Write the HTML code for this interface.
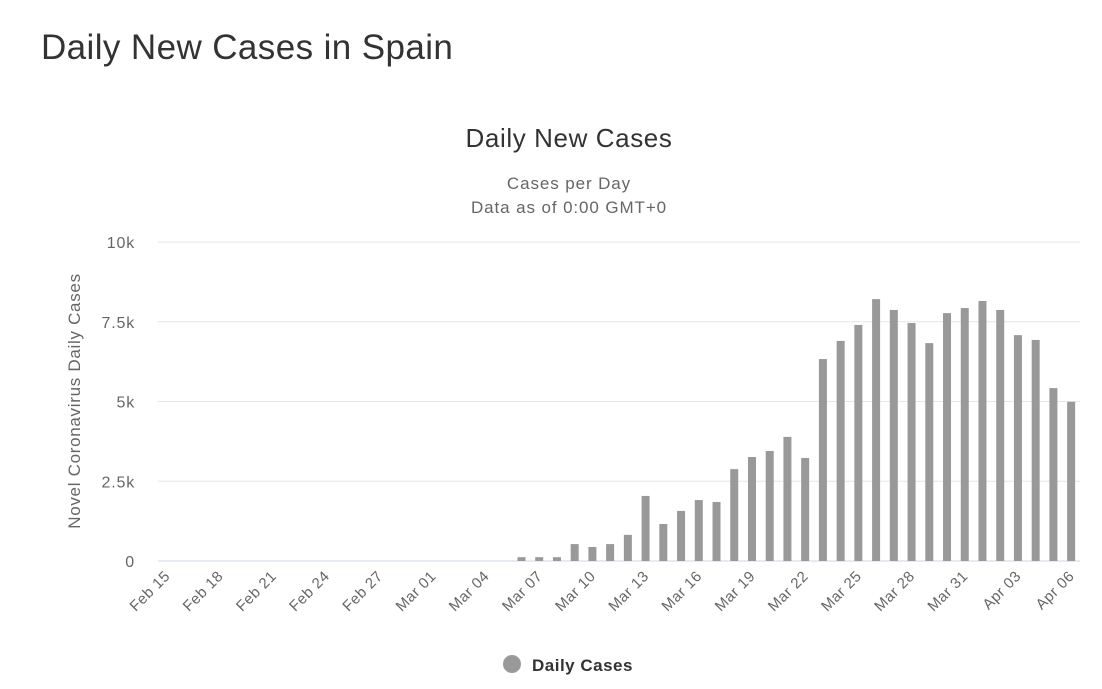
<!DOCTYPE html>
<html><head><meta charset="utf-8"><style>
body{margin:0;background:#fff;width:1102px;height:689px;overflow:hidden;font-family:"Liberation Sans",sans-serif;}
h1{position:absolute;left:41px;top:28px;margin:0;font-weight:normal;font-size:35px;letter-spacing:0.4px;color:#333;}
</style></head><body>
<h1>Daily New Cases in Spain</h1>
<svg id="chart" width="1102" height="689" style="position:absolute;left:0;top:0;font-family:'Liberation Sans',sans-serif">
<text x="569" y="147" text-anchor="middle" font-size="26" letter-spacing="0.6" fill="#333">Daily New Cases</text>
<text x="569" y="189" text-anchor="middle" font-size="17" letter-spacing="0.9" fill="#666">Cases per Day</text>
<text x="569" y="213" text-anchor="middle" font-size="17" letter-spacing="0.9" fill="#666">Data as of 0:00 GMT+0</text>
<text transform="translate(80,401) rotate(-90)" text-anchor="middle" font-size="17" letter-spacing="0.7" fill="#666">Novel Coronavirus Daily Cases</text>
<g id="grid"></g><g id="bars"></g><g id="xlabels"></g>
<g>
<circle cx="512" cy="664" r="9" fill="#999"/>
<text x="532" y="671" font-size="17" letter-spacing="0.5" font-weight="bold" fill="#333">Daily Cases</text>
</g>
</svg>
<script>
const categories = (function(){const a=[];const m=[["Feb",15,29],["Mar",1,31],["Apr",1,6]];for(const [n,s,e] of m)for(let d=s;d<=e;d++)a.push(n+" "+String(d).padStart(2,"0"));return a;})();
const values = [0,0,0,0,0,0,0,0,0,0,0,0,0,0,0,
0,0,0,0,0,120,120,120,530,440,530,820,2040,1160,1570,1910,1850,2880,3260,3450,3890,3230,6330,6900,7400,8210,7870,7460,6830,7770,7930,8150,
7870,7080,6930,5420,4990];
const yTicks = [0,2500,5000,7500,10000];
const yTickLabels = ["0","2.5k","5k","7.5k","10k"];
const NS="http://www.w3.org/2000/svg";
const x0=158,x1=1080,yb=561,yt=242,ymax=10000;
const step=(x1-x0)/categories.length;
const y=v=>yb-(v/ymax)*(yb-yt);
const xc=i=>x0+step*(i+0.5);
const grid=document.getElementById('grid');
yTicks.forEach((t,i)=>{
 const l=document.createElementNS(NS,'line');
 l.setAttribute('x1',x0);l.setAttribute('x2',x1);l.setAttribute('y1',y(t));l.setAttribute('y2',y(t));
 l.setAttribute('stroke',i===0?'#ccd6eb':'#e6e6e6');
 
 
 grid.appendChild(l);
 const tx=document.createElementNS(NS,'text');
 tx.setAttribute('x',135);tx.setAttribute('y',y(t)+6);tx.setAttribute('text-anchor','end');
 tx.setAttribute('font-size','16');tx.setAttribute('letter-spacing','0.8');tx.setAttribute('fill','#666');tx.textContent=yTickLabels[i];
 
 
 grid.appendChild(tx);
});
const bars=document.getElementById('bars');
values.forEach((v,i)=>{
 const r=document.createElementNS(NS,'rect');
 const bw=8;
 r.setAttribute('x',xc(i)-bw/2);r.setAttribute('width',bw);
 r.setAttribute('y',y(v));r.setAttribute('height',Math.max(0,yb-y(v)));
 r.setAttribute('fill','#999');
 
 
 bars.appendChild(r);
});
const xl=document.getElementById('xlabels');
categories.forEach((c,i)=>{
 if(i%3!==0)return;
 const t=document.createElementNS(NS,'text');
 const px=xc(i)+4,py=577;
 t.setAttribute('transform','translate('+px+','+py+') rotate(-45)');
 t.setAttribute('text-anchor','end');t.setAttribute('font-size','15');t.setAttribute('letter-spacing','0.5');t.setAttribute('fill','#666');
 t.textContent=c;
 
 
 xl.appendChild(t);
});
</script>
</body></html>
